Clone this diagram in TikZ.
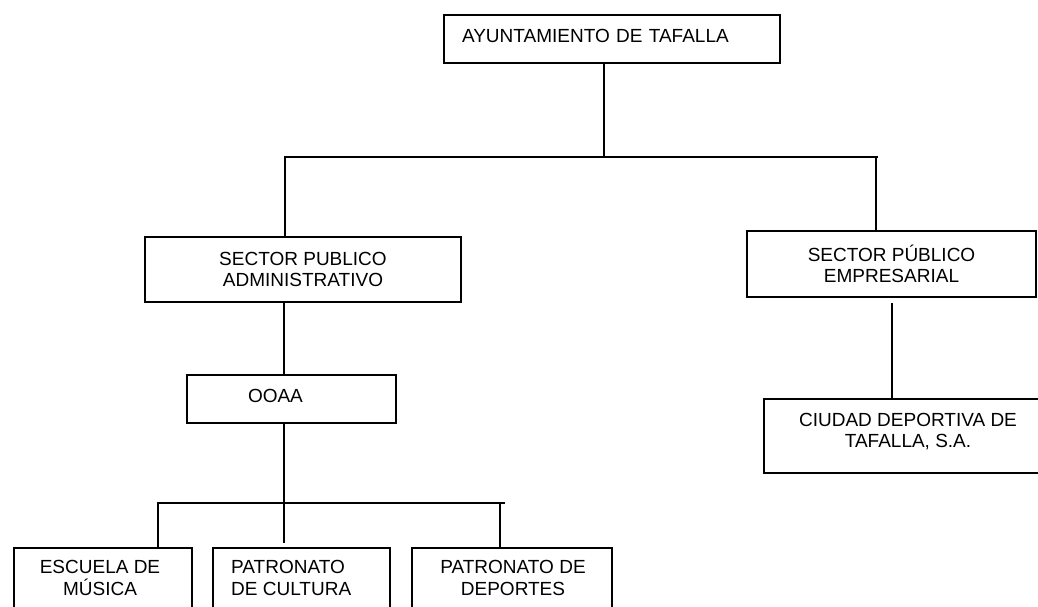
\documentclass[tikz,border=0pt]{standalone}
\usepackage{fontspec}
\setmainfont{Liberation Sans}
\usetikzlibrary{calc}
\begin{document}
\begin{tikzpicture}[x=1pt,y=-1pt,
  every node/.style={font=\fontsize{19}{21.5}\selectfont, text=black},
  box/.style={draw=black, line width=1.6pt, inner sep=0pt},
  txt/.style={inner sep=0pt, align=center},
  conn/.style={draw=black, line width=1.6pt}]
\useasboundingbox (0,0) rectangle (1038,607);
\clip (0,0) rectangle (1038,607);
% boxes
\node[box, minimum width=336, minimum height=48, text width=300, inner xsep=18, align=left, text height=13.6pt, text depth=6pt] (top) at (612,39) {AYUNTAMIENTO DE TAFALLA};
\node[box, minimum width=316, minimum height=65, align=center] (spa) at (303,269.5) {SECTOR PUBLICO\\ADMINISTRATIVO};
\node[box, minimum width=209, minimum height=48, text width=87, inner xsep=61, align=left, text height=13.6pt, text depth=6pt] (ooaa) at (291.5,399) {OOAA};
\node[box, minimum width=289, minimum height=66, align=center] (spe) at (891.5,264) {SECTOR PÚBLICO\\EMPRESARIAL};
\node[box, minimum width=290, minimum height=74, anchor=north west] (cdt) at (763,398) {};
\node[txt] (cdtt) at (908,431.5) {CIUDAD DEPORTIVA DE\\TAFALLA, S.A.};
\node[box, minimum width=178, minimum height=90, anchor=north west] (esc) at (13,547) {};
\node[txt] (esct) at (100,578) {ESCUELA DE\\MÚSICA};
\node[box, minimum width=177, minimum height=90, anchor=north west] (cul) at (212,547) {};
\node[txt, align=left, anchor=west] (cult) at (231,578) {PATRONATO\\DE CULTURA};
\node[box, minimum width=200, minimum height=90, anchor=north west] (dep) at (411,547) {};
\node[txt] (dept) at (513,578) {PATRONATO DE\\DEPORTES};
% junctions
\coordinate (j1) at (604,157);
\coordinate (hl) at (285,157);
\coordinate (hr) at (876,157);
\coordinate (hre) at (878,157);
\coordinate (c2) at (284,0);
\coordinate (b0) at (284,503);
\coordinate (bl) at (158,503);
\coordinate (br) at (500,503);
\coordinate (bre) at (505,503);
\coordinate (e1) at (892,303);
% connectors
\draw[conn] (top.south -| j1) -- (j1);
\draw[conn] (spa.north -| hl) -- (hl) -- (hre);
\draw[conn] (hr) -- (spe.north -| hr);
\draw[conn] (spa.south -| c2) -- (ooaa.north -| c2);
\draw[conn] (ooaa.south -| c2) -- (b0);
\draw[conn] (esc.north -| bl) -- (bl) -- (bre);
\draw[conn] (b0) -- ($(cul.north -| b0)+(0,-4)$);
\draw[conn] (br) -- (dep.north -| br);
\draw[conn] (e1) -- (cdt.north -| e1);
\end{tikzpicture}
\end{document}
